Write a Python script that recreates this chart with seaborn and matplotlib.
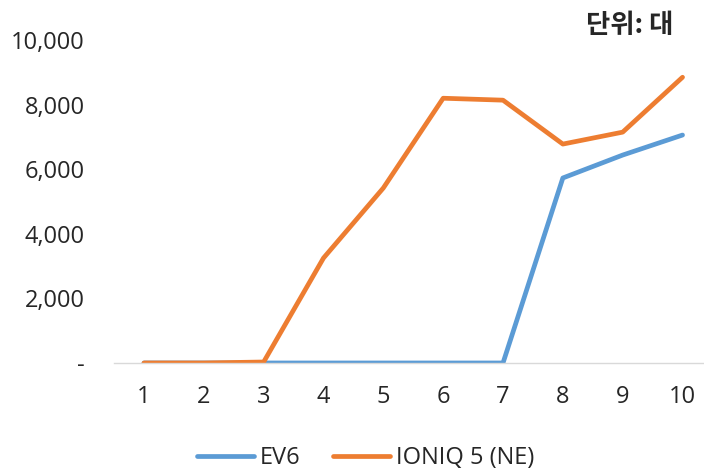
import matplotlib
matplotlib.use("Agg")
import matplotlib.pyplot as plt
import seaborn as sns
import pandas as pd
from matplotlib.lines import Line2D

months = [1, 2, 3, 4, 5, 6, 7, 8, 9, 10]
ev6 = [0, 0, 0, 0, 0, 0, 0, 5730, 6440, 7060]
ioniq5 = [0, 0, 30, 3250, 5420, 8200, 8140, 6780, 7150, 8850]
series_names = ["EV6", "IONIQ 5 (NE)"]
colors = ["#5B9BD5", "#ED7D31"]
yticks = [0, 2000, 4000, 6000, 8000, 10000]
ytick_labels = ["-", "2,000", "4,000", "6,000", "8,000", "10,000"]

sns.set_theme(style="white")
plt.rcParams['font.family'] = ['Open Sans', 'Noto Sans CJK KR', 'DejaVu Sans']

df = pd.DataFrame({
    "x": list(range(len(months))) * 2,
    "value": ev6 + ioniq5,
    "series": [series_names[0]] * len(months) + [series_names[1]] * len(months),
})

fig = plt.figure(figsize=(7.04, 4.72), dpi=100)
ax = fig.add_axes([0.162, 0.231, 0.85, 0.684])
sns.lineplot(data=df, x="x", y="value", hue="series", palette=colors,
             linewidth=3.4, ax=ax, legend=False, solid_capstyle="round")

ax.set_xlim(-0.5, len(months) - 0.5)
ax.set_ylim(0, 10000)
ax.set_xticks(range(len(months)))
ax.set_xticklabels([str(m) for m in months], fontsize=17)
ax.set_yticks(yticks)
ax.set_yticklabels(ytick_labels, fontsize=17)
ax.tick_params(axis="y", length=0, pad=21)
ax.tick_params(axis="x", length=0, pad=16)
ax.set_xlabel("")
ax.set_ylabel("")
for s in ["top", "right", "left"]:
    ax.spines[s].set_visible(False)
ax.spines["bottom"].set_color("#D9D9D9")
ax.spines["bottom"].set_linewidth(1.0)

handles = [Line2D([0], [0], color=c, lw=3.4, solid_capstyle="round") for c in colors]
fig.legend(handles, series_names, loc="center", bbox_to_anchor=(0.519, 0.03),
           ncol=2, frameon=False, fontsize=17, handlelength=2.4,
           handletextpad=0.25, columnspacing=1.4)

fig.text(0.957, 0.946, "단위: 대", ha="right", va="center", fontsize=19,
         fontweight="bold", family=["Noto Sans CJK KR", "DejaVu Sans"])

fig.savefig("out.png", dpi=100)
